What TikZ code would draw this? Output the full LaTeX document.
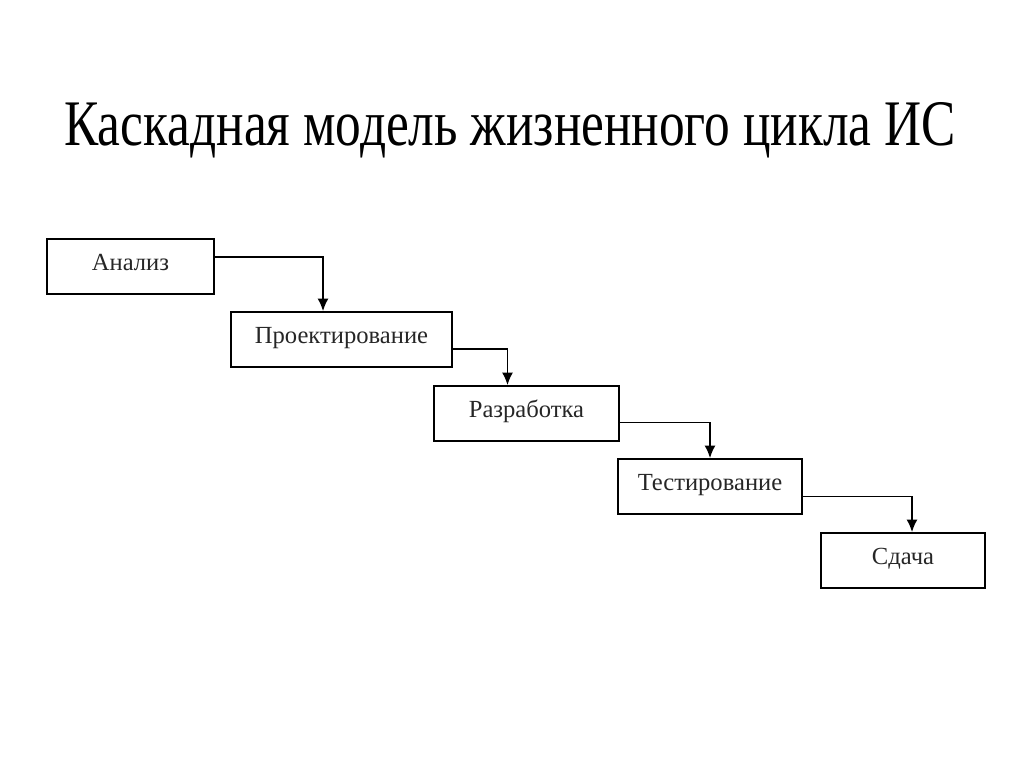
\documentclass[tikz,border=0pt]{standalone}
\usepackage{fontspec}
\setmainfont{Liberation Serif}
\newfontfamily\titlefont[FakeStretch=0.79]{Liberation Serif}
\usetikzlibrary{arrows.meta,calc}
\tikzset{%
  stage/.style  = {shape=rectangle, draw, line width=1pt,%
                   minimum height=1.1cm, inner sep=0pt,%
                   text height=0.34cm, text depth=0.17cm,%
                   font=\fontsize{14}{17}\selectfont, text=black!85},%
  flow/.style   = {draw, line width=1pt,%
                   -{Latex[length=0.25cm,width=0.22cm]}},%
  heading/.style = {font=\titlefont\fontsize{37}{44}\selectfont, anchor=base}%
}
\begin{document}
\begin{tikzpicture}[x=0.02cm,y=-0.02cm]%
	\useasboundingbox (0,0) rectangle (1024,767);
	\node[heading] (title) at (510,145) {Каскадная модель жизненного цикла ИС};%
	% stages of the waterfall
	\node[stage, minimum width=3.34cm] (anal)   at (130.5,266.5) {Анализ};%
	\node[stage, minimum width=4.42cm] (proj)   at (341.5,339.5) {Проектирование};%
	\node[stage, minimum width=3.70cm] (razr)   at (526.5,413.5) {Разработка};%
	\node[stage, minimum width=3.68cm] (test)   at (710,486.5)   {Тестирование};%
	\node[stage, minimum width=3.28cm] (sdacha) at (903,560.5)   {Сдача};%
	% transitions
	\draw[flow] ([yshift=0.19cm]anal.east) -| ([xshift=-0.37cm]proj.north);%
	\draw[flow] ([yshift=-0.19cm]proj.east) -| ([xshift=-0.38cm]razr.north);%
	\draw[flow] ([yshift=-0.18cm]razr.east) -| (test.north);%
	\draw[flow] ([yshift=-0.20cm]test.east) -| ([xshift=0.18cm]sdacha.north);%
\end{tikzpicture}
\end{document}
